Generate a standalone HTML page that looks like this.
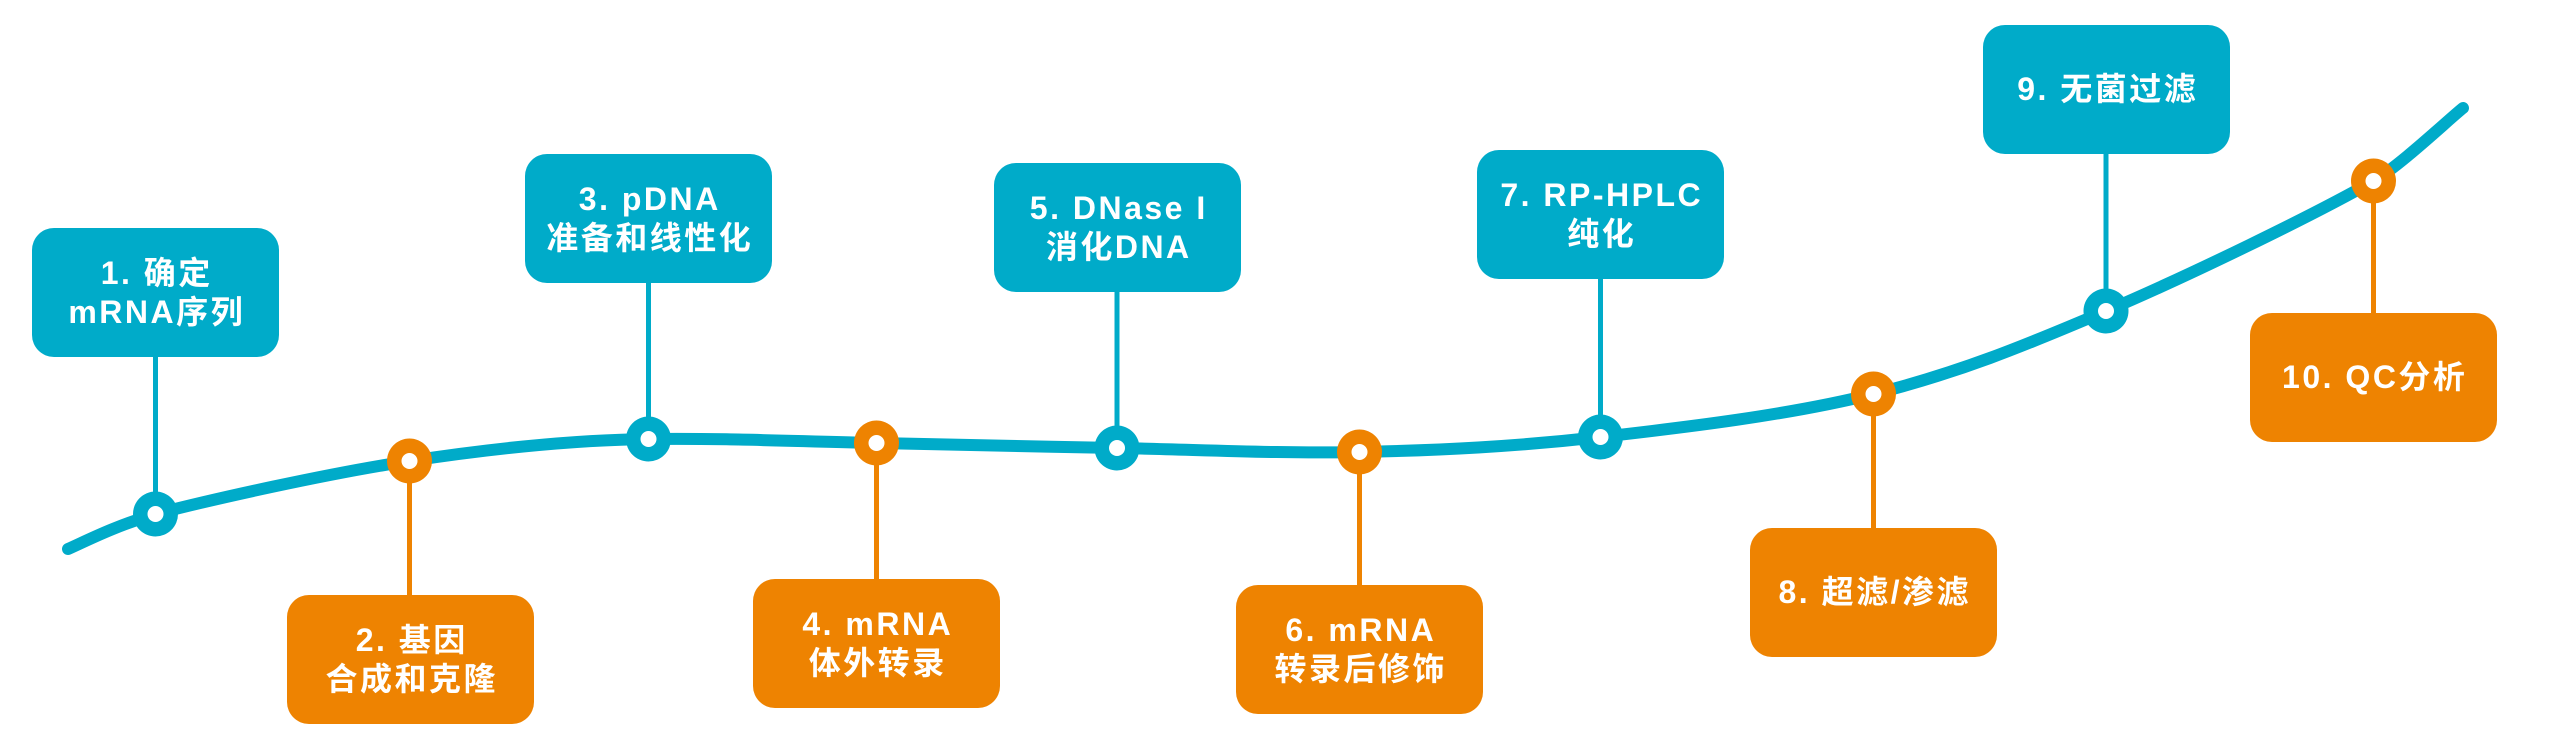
<!DOCTYPE html>
<html>
<head>
<meta charset="utf-8">
<style>
  html, body { margin:0; padding:0; background:#ffffff; }
  body { width:2560px; height:744px; position:relative; overflow:hidden; }
  svg { position:absolute; left:0; top:0; }
  .box {
    position:absolute; width:247px; height:129px; border-radius:22px;
    display:flex; flex-direction:column; align-items:center; justify-content:center;
    color:#ffffff; font-family:"Liberation Sans","Noto Sans CJK SC",sans-serif;
    font-weight:bold; font-size:32px; line-height:39px; letter-spacing:2.5px;
    text-align:center; box-sizing:border-box; padding-left:2.5px;
  }
  .b { background:#00abc9; }
  .o { background:#ee8301; }
  .box div { white-space:nowrap; }
</style>
</head>
<body>
<svg width="2560" height="744" viewBox="0 0 2560 744" xmlns="http://www.w3.org/2000/svg">
  <path d="M68,549 C88,540 115,526 155.5,514
           C212.4,499.3 327.3,473.5 409.5,461
           C491.7,448.5 570.7,440 648.5,439
           C726.3,438 798.4,441.5 876.5,443
           C954.6,444.5 1036.5,446.5 1117,448
           C1197.5,449.5 1278.9,453.8 1359.5,452
           C1440.1,450.2 1514.8,446.7 1600.5,437
           C1686.2,427.3 1789.25,415 1873.5,394
           C1957.75,373 2022.7,346.5 2106,311
           C2189.3,275.5 2314,214.8 2373.5,181
           C2399.5,166 2448,120 2463,108"
        fill="none" stroke="#00abc9" stroke-width="12" stroke-linecap="round"/>
  <!-- stems -->
  <g stroke-width="5">
    <line x1="155.5" y1="356" x2="155.5" y2="514" stroke="#00abc9"/>
    <line x1="409.5" y1="596" x2="409.5" y2="461" stroke="#ee8301"/>
    <line x1="648.5" y1="282" x2="648.5" y2="439" stroke="#00abc9"/>
    <line x1="876.5" y1="580" x2="876.5" y2="443" stroke="#ee8301"/>
    <line x1="1117" y1="291" x2="1117" y2="448" stroke="#00abc9"/>
    <line x1="1359.5" y1="586" x2="1359.5" y2="452" stroke="#ee8301"/>
    <line x1="1600.5" y1="278" x2="1600.5" y2="437" stroke="#00abc9"/>
    <line x1="1873.5" y1="529" x2="1873.5" y2="394" stroke="#ee8301"/>
    <line x1="2106" y1="153" x2="2106" y2="311" stroke="#00abc9"/>
    <line x1="2373.5" y1="314" x2="2373.5" y2="181" stroke="#ee8301"/>
  </g>
  <!-- nodes -->
  <g>
    <circle cx="155.5" cy="514" r="22.5" fill="#00abc9"/><circle cx="155.5" cy="514" r="8" fill="#fff"/>
    <circle cx="409.5" cy="461" r="22.5" fill="#ee8301"/><circle cx="409.5" cy="461" r="8" fill="#fff"/>
    <circle cx="648.5" cy="439" r="22.5" fill="#00abc9"/><circle cx="648.5" cy="439" r="8" fill="#fff"/>
    <circle cx="876.5" cy="443" r="22.5" fill="#ee8301"/><circle cx="876.5" cy="443" r="8" fill="#fff"/>
    <circle cx="1117" cy="448" r="22.5" fill="#00abc9"/><circle cx="1117" cy="448" r="8" fill="#fff"/>
    <circle cx="1359.5" cy="452" r="22.5" fill="#ee8301"/><circle cx="1359.5" cy="452" r="8" fill="#fff"/>
    <circle cx="1600.5" cy="437" r="22.5" fill="#00abc9"/><circle cx="1600.5" cy="437" r="8" fill="#fff"/>
    <circle cx="1873.5" cy="394" r="22.5" fill="#ee8301"/><circle cx="1873.5" cy="394" r="8" fill="#fff"/>
    <circle cx="2106" cy="311" r="22.5" fill="#00abc9"/><circle cx="2106" cy="311" r="8" fill="#fff"/>
    <circle cx="2373.5" cy="181" r="22.5" fill="#ee8301"/><circle cx="2373.5" cy="181" r="8" fill="#fff"/>
  </g>
</svg>

<div class="box b" style="left:32px;top:228px;"><div>1. 确定</div><div>mRNA序列</div></div>
<div class="box o" style="left:287px;top:595px;"><div>2. 基因</div><div>合成和克隆</div></div>
<div class="box b" style="left:525px;top:154px;"><div>3. pDNA</div><div>准备和线性化</div></div>
<div class="box o" style="left:753px;top:579px;"><div>4. mRNA</div><div>体外转录</div></div>
<div class="box b" style="left:994px;top:163px;"><div>5. DNase I</div><div>消化DNA</div></div>
<div class="box o" style="left:1236px;top:585px;"><div>6. mRNA</div><div>转录后修饰</div></div>
<div class="box b" style="left:1477px;top:150px;"><div>7. RP-HPLC</div><div>纯化</div></div>
<div class="box o" style="left:1750px;top:528px;"><div>8. 超滤/渗滤</div></div>
<div class="box b" style="left:1983px;top:25px;"><div>9. 无菌过滤</div></div>
<div class="box o" style="left:2250px;top:313px;"><div>10. QC分析</div></div>
</body>
</html>
